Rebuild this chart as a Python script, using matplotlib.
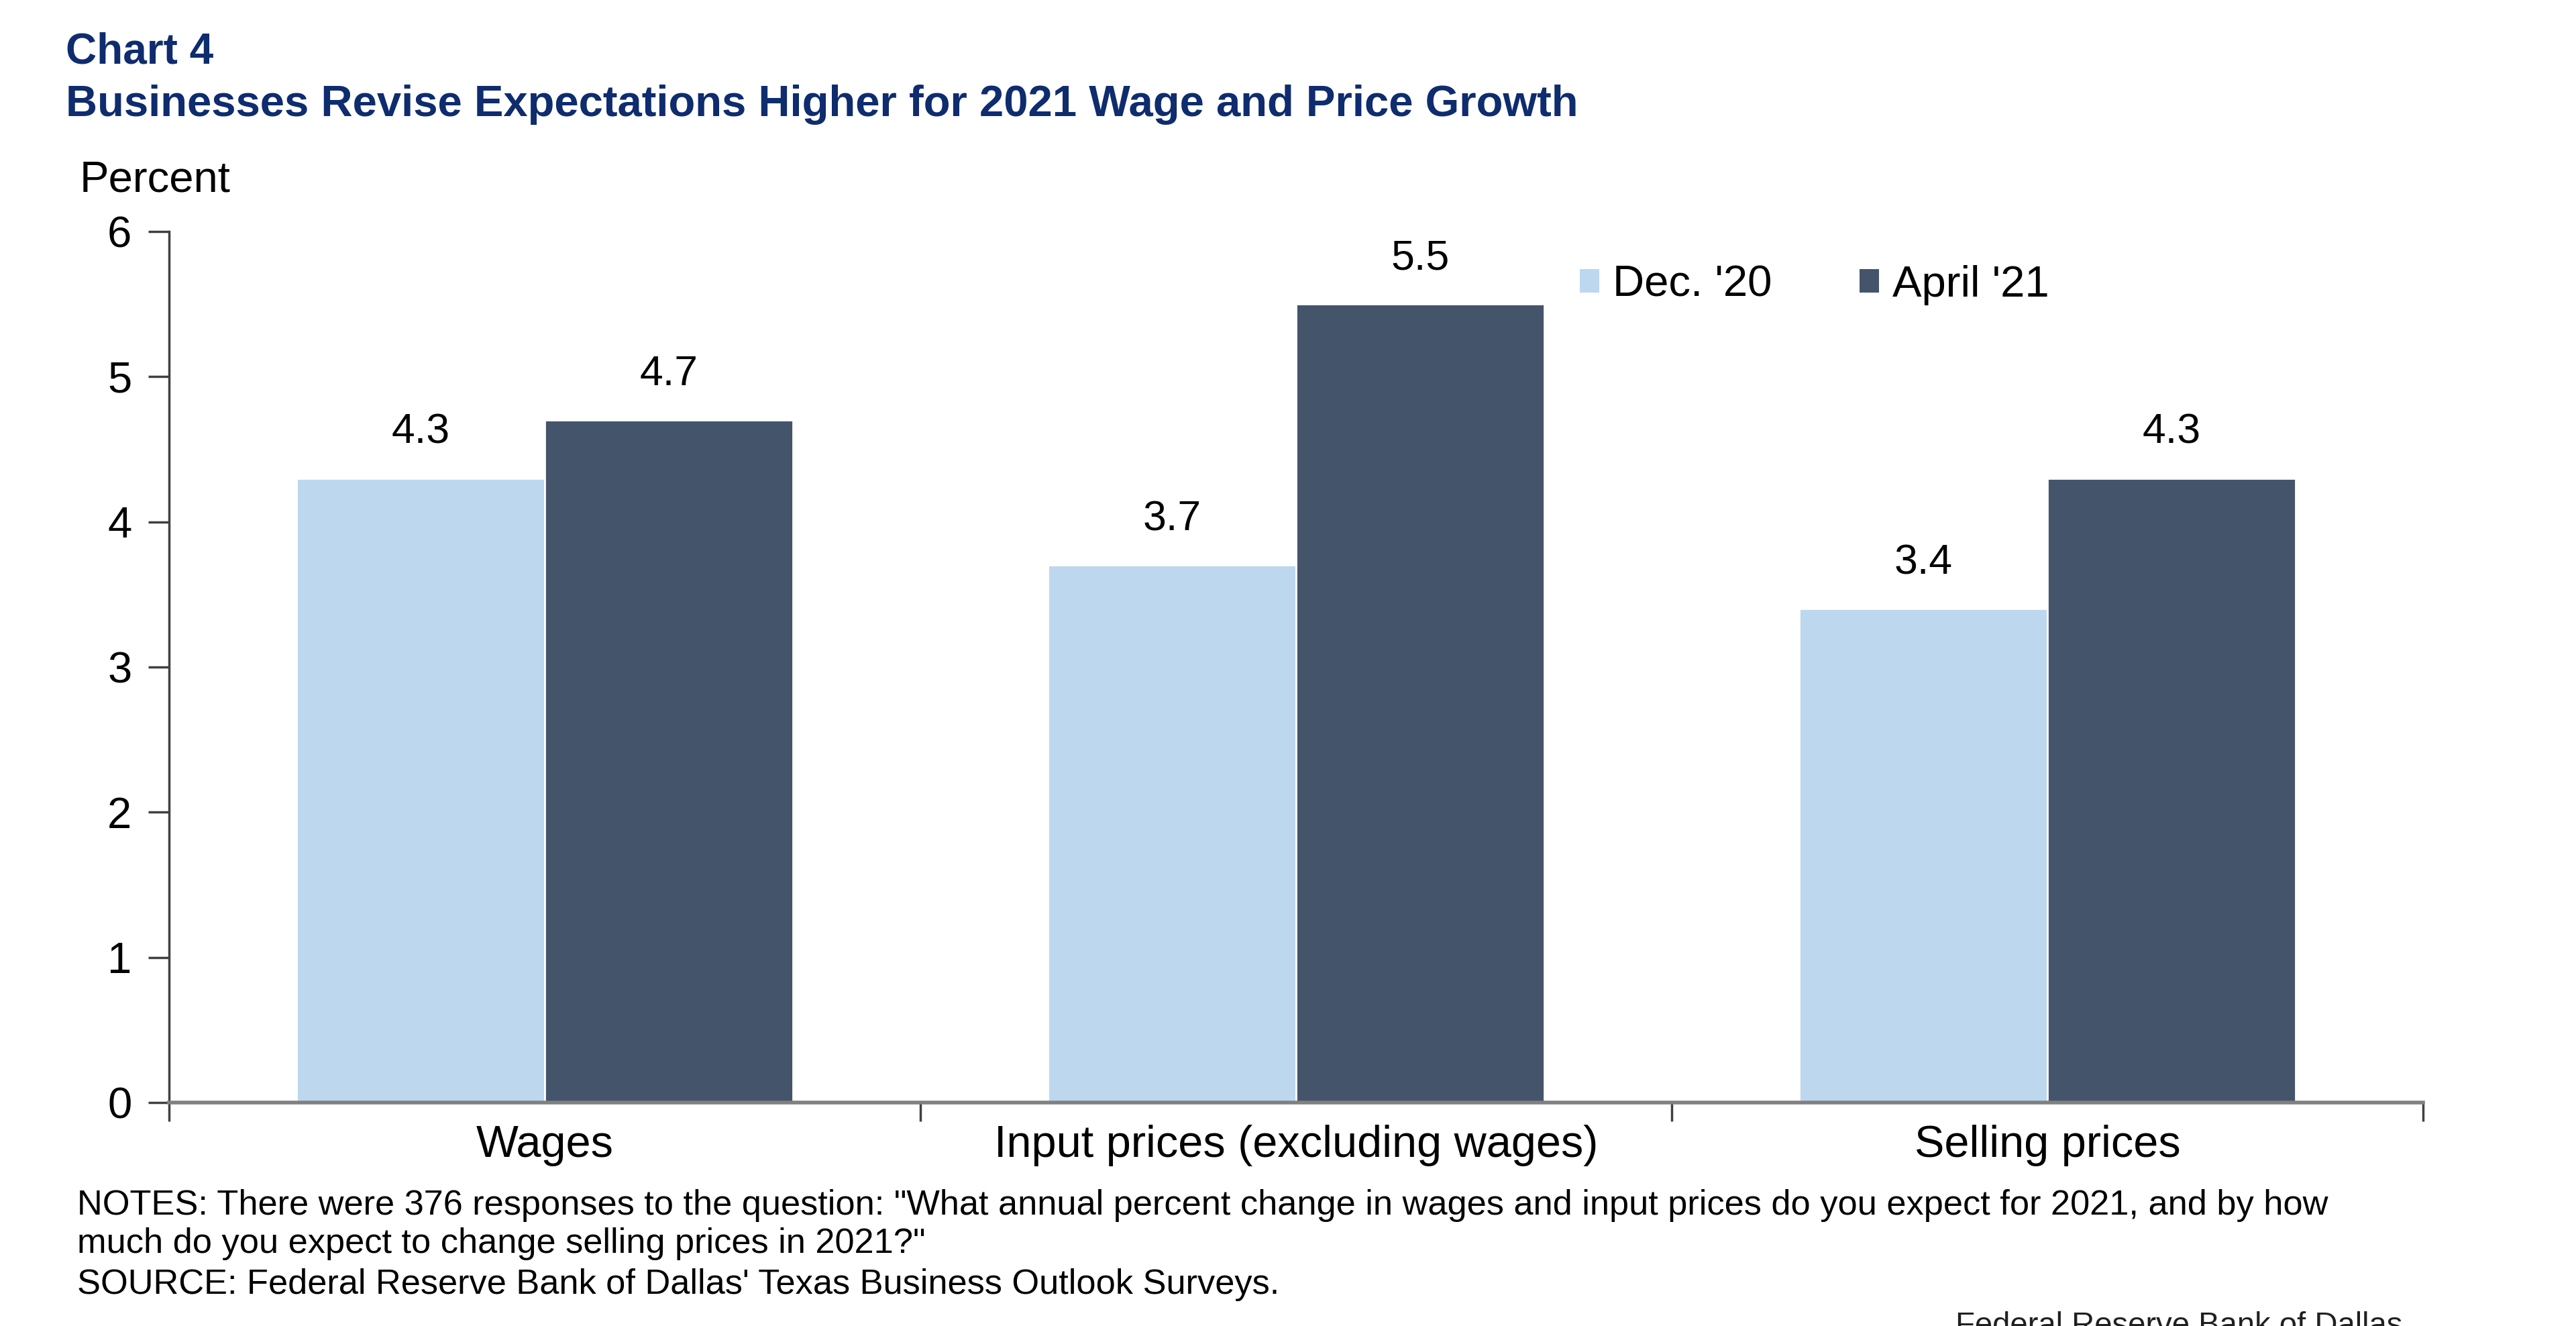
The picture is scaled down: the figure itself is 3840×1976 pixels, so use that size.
import matplotlib.pyplot as plt
from matplotlib.patches import Patch

# Chart data
categories = ["Wages", "Input prices (excluding wages)", "Selling prices"]
dec_20 = [4.3, 3.7, 3.4]
april_21 = [4.7, 5.5, 4.3]
series_names = ["Dec. '20", "April '21"]
y_ticks = [0, 1, 2, 3, 4, 5, 6]

light_blue = "#BDD7EE"
dark_slate = "#44546A"
navy = "#0E2C6E"

plt.rcParams['font.family'] = ['Liberation Sans', 'DejaVu Sans']

fig = plt.figure(figsize=(38.4, 19.76), dpi=100)
ax = fig.add_axes([0.0656, 0.1685, 0.875, 0.657])

x = list(range(len(categories)))
w = 0.33
dec_bars = ax.bar([i - w / 2 for i in x], dec_20, width=w, color=light_blue,
                  edgecolor="white", linewidth=2)
apr_bars = ax.bar([i + w / 2 for i in x], april_21, width=w, color=dark_slate,
                  edgecolor="white", linewidth=2)

# value labels above bars
for bars, vals in ((dec_bars, dec_20), (apr_bars, april_21)):
    ax.bar_label(bars, labels=[f"{v:.1f}" for v in vals], padding=28, fontsize=45)

ax.set_xlim(-0.5, len(categories) - 0.5)
ax.set_ylim(0, 6)
ax.set_yticks(y_ticks)
ax.tick_params(axis="y", labelsize=47, length=22, width=2.5, color="#404040", pad=18)

# category labels centred, tick marks at group boundaries
ax.set_xticks(x)
ax.set_xticklabels(categories, fontsize=48)
ax.tick_params(axis="x", length=0, pad=24)
ax.set_xticks([i - 0.5 for i in range(len(categories) + 1)], minor=True)
ax.tick_params(axis="x", which="minor", length=20, width=2.5, color="#404040")

for side in ("top", "right"):
    ax.spines[side].set_visible(False)
ax.spines["left"].set_color("#404040")
ax.spines["left"].set_linewidth(2.5)
ax.spines["bottom"].set_color("#808080")
ax.spines["bottom"].set_linewidth(4)

# legend
handles = [Patch(facecolor=light_blue), Patch(facecolor=dark_slate)]
fig.legend(handles, series_names, loc="center left", bbox_to_anchor=(0.598, 0.785),
           ncol=2, frameon=False, fontsize=47, handlelength=0.45, handleheight=0.45,
           handletextpad=0.3, columnspacing=2.0)

# titles and notes
fig.text(0.0255, 0.961, "Chart 4", fontsize=46, fontweight="bold", color=navy, va="center")
fig.text(0.0255, 0.921, "Businesses Revise Expectations Higher for 2021 Wage and Price Growth",
         fontsize=47, fontweight="bold", color=navy, va="center")
fig.text(0.031, 0.864, "Percent", fontsize=47, va="center")

fig.text(0.030, 0.091, "NOTES: There were 376 responses to the question: \"What annual percent change in wages "
         "and input prices do you expect for 2021, and by how", fontsize=37.7, va="center")
fig.text(0.030, 0.062, "much do you expect to change selling prices in 2021?\"", fontsize=37.7, va="center")
fig.text(0.030, 0.031, "SOURCE: Federal Reserve Bank of Dallas' Texas Business Outlook Surveys.",
         fontsize=37.7, va="center")
fig.text(0.759, 0.0, "Federal Reserve Bank of Dallas", fontsize=34, va="center", color="#202020")

fig.savefig("out.png", dpi=100)
